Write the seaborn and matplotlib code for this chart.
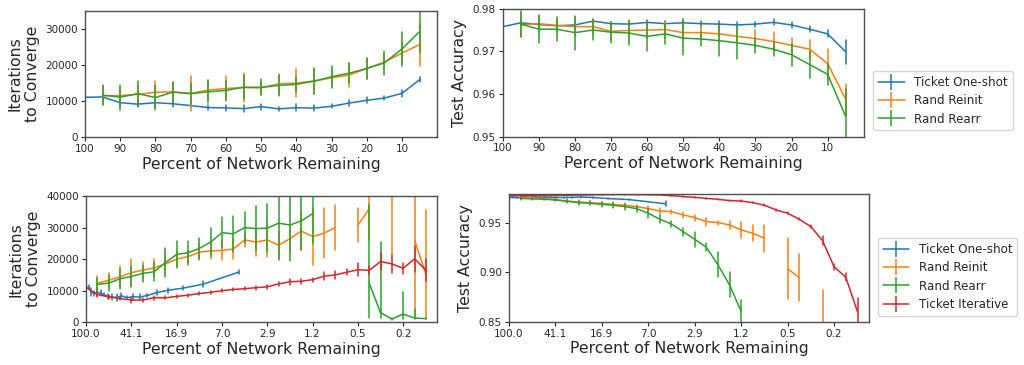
import numpy as np
import pandas as pd
import seaborn as sns
import matplotlib
matplotlib.use("Agg")
import matplotlib.pyplot as plt
from matplotlib.lines import Line2D

nan = np.nan

# x positions: one-shot runs (top row) and iterative pruning rounds (bottom row)
pct_oneshot = [100, 95, 90, 85, 80, 75, 70, 65, 60, 55, 50, 45, 40, 35, 30, 25, 20, 15, 10, 5]
pct_iter = [100.0, 80.07, 64.12, 51.34, 41.11, 32.92, 26.36, 21.11, 16.90, 13.54,
            10.84, 8.68, 6.95, 5.57, 4.46, 3.57, 2.86, 2.29, 1.83, 1.47,
            1.175, 0.941, 0.753, 0.603, 0.483, 0.387, 0.310, 0.248, 0.199, 0.159, 0.127]
top_xticks = [100, 90, 80, 70, 60, 50, 40, 30, 20, 10]
iter_tick_labels = ["100.0", "41.1", "16.9", "7.0", "2.9", "1.2", "0.5", "0.2"]

labels = ["Ticket One-shot", "Rand Reinit", "Rand Rearr", "Ticket Iterative"]

# top left: iterations to converge (one-shot)
oneshot_it = [11000, 11100, 9500, 9100, 9500, 9200, 8700, 8150, 8050, 7850,
              8400, 7800, 8100, 8000, 8500, 9400, 10150, 10800, 12100, 15900]
oneshot_it_err = [0, 600, 1300, 800, 1200, 900, 500, 700, 900, 1000,
                  800, 500, 1000, 900, 500, 900, 800, 600, 900, 700]
reinit_it = [nan, 11400, 11500, 11800, 12400, 12500, 12100, 13000, 13450, 13700,
             13650, 14750, 14950, 15500, 16400, 17200, 19000, 20800, 23300, 25650]
reinit_it_err = [0, 2600, 2000, 2400, 3100, 2800, 4900, 2700, 3400, 4000,
                 2000, 2800, 4000, 3500, 2200, 3400, 2800, 2000, 3000, 6000]
rearr_it = [nan, 11600, 11050, 12000, 10950, 12450, 12000, 12550, 12900, 13800,
            13750, 14300, 14600, 15500, 16700, 17700, 19000, 20550, 24450, 29300]
rearr_it_err = [0, 2700, 3500, 3500, 3600, 2800, 3000, 3200, 2700, 3400,
                2200, 2900, 2000, 3700, 3100, 2700, 3000, 3300, 4700, 6000]

# top right: test accuracy (one-shot)
oneshot_acc = [0.9758, 0.9767, 0.9763, 0.9760, 0.9762, 0.9771, 0.9765, 0.9764, 0.9768, 0.9765,
               0.9767, 0.9765, 0.9764, 0.9762, 0.9764, 0.9768, 0.9762, 0.9752, 0.9741, 0.9699]
oneshot_acc_err = [0, 0.0005, 0.0007, 0.0006, 0.0006, 0.0006, 0.0005, 0.0005, 0.0006, 0.0006,
                   0.0008, 0.0007, 0.0007, 0.0006, 0.0006, 0.0007, 0.0008, 0.0007, 0.0008, 0.0028]
reinit_acc = [nan, 0.9762, 0.9765, 0.9761, 0.9758, 0.9758, 0.9747, 0.9749, 0.9750, 0.9751,
              0.9744, 0.9744, 0.9741, 0.9735, 0.9730, 0.9723, 0.9714, 0.9705, 0.9671, 0.9588]
reinit_acc_err = [0, 0.0029, 0.0017, 0.0016, 0.0022, 0.0017, 0.0020, 0.0024, 0.0018, 0.0020,
                  0.0020, 0.0016, 0.0018, 0.0018, 0.0020, 0.0022, 0.0018, 0.0022, 0.0035, 0.0035]
rearr_acc = [nan, 0.9764, 0.9752, 0.9752, 0.9744, 0.9750, 0.9745, 0.9743, 0.9735, 0.9741,
             0.9731, 0.9729, 0.9725, 0.9720, 0.9714, 0.9705, 0.9692, 0.9669, 0.9646, 0.9547]
rearr_acc_err = [0, 0.0031, 0.0033, 0.0028, 0.0040, 0.0023, 0.0025, 0.0029, 0.0035, 0.0024,
                 0.0040, 0.0016, 0.0036, 0.0037, 0.0018, 0.0017, 0.0026, 0.0032, 0.0025, 0.0065]

# bottom left: iterations to converge (iterative)
iter_it = [11000, 8800, 8100, 7500, 7050, 7050, 7800, 7750, 8200, 8600,
           9100, 9500, 10000, 10400, 10650, 10950, 11250, 12150, 12850, 13000,
           13500, 14600, 15000, 15850, 16650, 16450, 19250, 18500, 17100, 20100, 16500]
iter_it_err = [1000, 900, 700, 500, 1000, 700, 600, 500, 500, 500,
               500, 500, 500, 500, 500, 600, 600, 700, 900, 800,
               600, 1200, 1200, 1000, 2000, 1300, 2800, 3000, 1800, 4200, 3500]
reinit_iter_it = [nan, 12400, 13300, 14400, 15700, 16500, 17200, 18500, 20000, 20800,
                  22200, 22600, 22800, 23200, 26100, 25400, 26100, 24400, 26500, 28900,
                  27200, 28200, 30000, nan, 30750, 36000, nan, 45000, nan, 26000, 14950]
reinit_iter_it_lo = [0, 2400, 2300, 3300, 4300, 2500, 3000, 3000, 2500, 2000,
                     2500, 2500, 3000, 3300, 2300, 4500, 5500, 4500, 4000, 6000,
                     9000, 7900, 7000, 0, 5300, 10000, 0, 23200, 0, 24200, 13700]
reinit_iter_it_hi = [0, 2400, 2300, 3300, 4300, 2500, 3000, 3000, 2500, 2000,
                     2500, 2500, 3000, 3300, 2300, 4500, 5500, 4500, 4000, 6000,
                     9000, 7900, 7000, 0, 5300, 10000, 0, 23200, 0, 24200, 20550]
rearr_iter_it = [nan, 12000, 12400, 13800, 14500, 15500, 16000, 18900, 21500, 22000,
                 23400, 25400, 28400, 28000, 30000, 29700, 29800, 31400, 30800, 32100,
                 34400, nan, nan, nan, nan, 12300, 3050, 1050, 2600, 1350, 1150]
rearr_iter_it_lo = [0, 2100, 2500, 3200, 3400, 2600, 3000, 4500, 4200, 3700,
                    3300, 4500, 5000, 5600, 4800, 7000, 7600, 11600, 11300, 9300,
                    9500, 0, 0, 0, 0, 11000, 1800, 200, 1400, 300, 200]
rearr_iter_it_hi = [0, 2100, 2500, 3200, 3400, 2600, 3000, 4500, 4200, 3700,
                    3300, 4500, 5000, 5600, 4800, 7000, 7600, 11600, 11300, 9300,
                    9500, 0, 0, 0, 0, 25300, 22450, 200, 7100, 3000, 200]

# bottom right: test accuracy (iterative)
iter_acc = [0.9778, 0.9781, 0.9781, 0.9782, 0.9785, 0.9785, 0.9788, 0.9790, 0.9791, 0.9793,
            0.9793, 0.9792, 0.9791, 0.9788, 0.9781, 0.9772, 0.9764, 0.9754, 0.9744, 0.9731,
            0.9727, 0.9710, 0.9683, 0.9636, 0.9602, 0.9541, 0.9466, 0.9324, 0.9059, 0.8951, 0.8600]
iter_acc_err = [0.0005] * 15 + [0.0006, 0.0006, 0.0006, 0.0006, 0.0006,
                               0.0007, 0.0008, 0.0010, 0.0012, 0.0010, 0.0010,
                               0.0015, 0.0045, 0.0030, 0.0040, 0.0140]
reinit_iter_acc = [nan, 0.9764, 0.9758, 0.9751, 0.9744, 0.9727, 0.9717, 0.9710, 0.9703, 0.9693,
                   0.9683, 0.9670, 0.9649, 0.9625, 0.9619, 0.9585, 0.9558, 0.9517, 0.9507, 0.9483,
                   0.9432, 0.9398, 0.9347, nan, 0.9036, 0.8947, nan, 0.8400, nan, nan, nan]
reinit_iter_acc_err = [0, 0.0010, 0.0010, 0.0010, 0.0010, 0.0012, 0.0015, 0.0015, 0.0015, 0.0020,
                       0.0020, 0.0020, 0.0025, 0.0030, 0.0020, 0.0035, 0.0030, 0.0040, 0.0020, 0.0040,
                       0.0085, 0.0080, 0.0135, 0, 0.0310, 0.0240, 0, 0.0420, 0, 0, 0]
rearr_iter_acc = [nan, 0.9754, 0.9748, 0.9745, 0.9737, 0.9724, 0.9710, 0.9703, 0.9693, 0.9683,
                  0.9670, 0.9649, 0.9602, 0.9541, 0.9493, 0.9415, 0.9337, 0.9256, 0.9076, 0.8873,
                  0.8602] + [nan] * 10
rearr_iter_acc_err = [0, 0.0012, 0.0010, 0.0010, 0.0015, 0.0020, 0.0020, 0.0020, 0.0025, 0.0025,
                      0.0030, 0.0030, 0.0050, 0.0040, 0.0030, 0.0040, 0.0075, 0.0040, 0.0127, 0.0127,
                      0.0120] + [0] * 10

sns.set_style("ticks")
plt.rcParams["font.family"] = ["DejaVu Sans"]
plt.rcParams["axes.edgecolor"] = "0.3"
plt.rcParams["xtick.major.size"] = 3
plt.rcParams["ytick.major.size"] = 3
colors = sns.color_palette("tab10")[:4]
LW = 1.1


def long_form(x, mean, lo, hi=None):
    # three rows per point (low, mean, high) -> median gives the mean, full range gives the bar
    if hi is None:
        hi = lo
    rows = []
    seg = 0
    for xi, m, l, h in zip(x, mean, lo, hi):
        if np.isnan(m):
            seg += 1
            continue
        for v in (m - l, m, m + h):
            rows.append({"x": xi, "y": v, "seg": seg})
    return pd.DataFrame(rows)


def draw(ax, x, mean, lo, hi, color):
    df = long_form(x, mean, lo, hi)
    for _, part in df.groupby("seg"):
        sns.lineplot(data=part, x="x", y="y", ax=ax, color=color, lw=LW,
                     estimator="median", errorbar=("pi", 100), err_style="bars",
                     err_kws={"elinewidth": LW, "capsize": 0}, legend=False)


fig = plt.figure(figsize=(10.24, 3.65), dpi=100)
ax_tl = fig.add_axes([0.083, 0.625, 0.344, 0.345])
ax_tr = fig.add_axes([0.491, 0.626, 0.3525, 0.350])
ax_bl = fig.add_axes([0.084, 0.117, 0.343, 0.346])
ax_br = fig.add_axes([0.497, 0.119, 0.3516, 0.350])

for ax in (ax_bl, ax_br):
    ax.set_xscale("log")

draw(ax_tl, pct_oneshot, oneshot_it, oneshot_it_err, None, colors[0])
draw(ax_tl, pct_oneshot, reinit_it, reinit_it_err, None, colors[1])
draw(ax_tl, pct_oneshot, rearr_it, rearr_it_err, None, colors[2])

draw(ax_tr, pct_oneshot, oneshot_acc, oneshot_acc_err, None, colors[0])
draw(ax_tr, pct_oneshot, reinit_acc, reinit_acc_err, None, colors[1])
draw(ax_tr, pct_oneshot, rearr_acc, rearr_acc_err, None, colors[2])

draw(ax_bl, pct_oneshot, oneshot_it, oneshot_it_err, None, colors[0])
draw(ax_bl, pct_iter, reinit_iter_it, reinit_iter_it_lo, reinit_iter_it_hi, colors[1])
draw(ax_bl, pct_iter, rearr_iter_it, rearr_iter_it_lo, rearr_iter_it_hi, colors[2])
draw(ax_bl, pct_iter, iter_it, iter_it_err, None, colors[3])

draw(ax_br, pct_oneshot, oneshot_acc, oneshot_acc_err, None, colors[0])
draw(ax_br, pct_iter, reinit_iter_acc, reinit_iter_acc_err, None, colors[1])
draw(ax_br, pct_iter, rearr_iter_acc, rearr_iter_acc_err, None, colors[2])
draw(ax_br, pct_iter, iter_acc, iter_acc_err, None, colors[3])

TICK_FS = 7.5
LABEL_FS = 11.3

for ax in (ax_tl, ax_tr):
    ax.set_xlim(100, 0)
    ax.set_xticks(top_xticks)
    ax.set_xticklabels([str(t) for t in top_xticks])

for ax in (ax_bl, ax_br):
    ax.set_xlim(100, 0.102)
    ax.xaxis.set_minor_locator(matplotlib.ticker.NullLocator())
    ax.set_xticks(pct_iter[::4][:len(iter_tick_labels)])
    ax.set_xticklabels(iter_tick_labels)

ax_tl.set_ylim(0, 35000)
ax_tl.set_yticks([0, 10000, 20000, 30000])
ax_tr.set_ylim(0.95, 0.98)
ax_tr.set_yticks([0.95, 0.96, 0.97, 0.98])
ax_bl.set_ylim(0, 40000)
ax_bl.set_yticks([0, 10000, 20000, 30000, 40000])
ax_br.set_ylim(0.85, 0.98)
ax_br.set_yticks([0.85, 0.90, 0.95])
ax_br.set_yticklabels(["0.85", "0.90", "0.95"])

for ax in (ax_tl, ax_bl):
    ax.set_ylabel("Iterations\nto Converge", fontsize=LABEL_FS)
for ax in (ax_tr, ax_br):
    ax.set_ylabel("Test Accuracy", fontsize=LABEL_FS)
for ax in (ax_tl, ax_tr, ax_bl, ax_br):
    ax.set_xlabel("Percent of Network Remaining", fontsize=LABEL_FS, labelpad=2)
    ax.tick_params(labelsize=TICK_FS, pad=2)
    for sp in ax.spines.values():
        sp.set_linewidth(1.0)


def handles(n):
    return [Line2D([], [], color=colors[i], lw=LW, marker="|", markersize=12,
                   markeredgewidth=LW) for i in range(n)]


ax_tr.legend(handles(3), labels[:3], loc="center left", bbox_to_anchor=(1.027, 0.28),
             fontsize=8.6, handlelength=2.2, labelspacing=0.45, borderaxespad=0)
ax_br.legend(handles(4), labels, loc="center left", bbox_to_anchor=(1.025, 0.35),
             fontsize=8.6, handlelength=2.2, labelspacing=0.45, borderaxespad=0)

fig.savefig("out.png", dpi=100)
